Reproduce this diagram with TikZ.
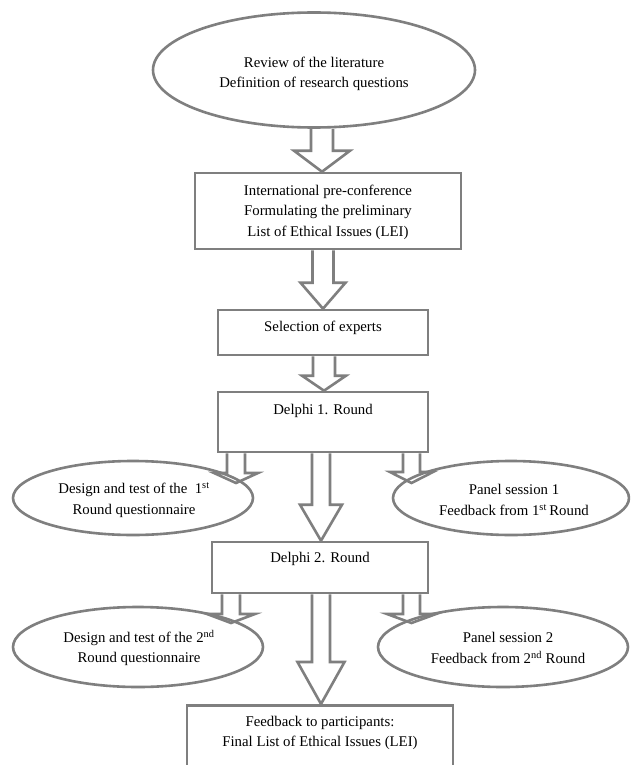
\documentclass[tikz,border=0pt]{standalone}
\usepackage{fontspec}
\setmainfont{Liberation Serif}
\usetikzlibrary{shapes.geometric,calc}
\definecolor{lc}{HTML}{7F7F7F}
\pgfdeclarelayer{bg}
\pgfsetlayers{bg,main}
\newcommand\myblk[6]{% #1 from, #2 to, #3 x, #4 shaft half, #5 head half, #6 head length
  \draw[blk] let \p1=(#1), \p2=(#2), \p3=(#3,0) in
    ({\x3-#4},\y1) -- ({\x3-#4},{\y2+#6}) -- ({\x3-#5},{\y2+#6}) -- (\x3,\y2)
    -- ({\x3+#5},{\y2+#6}) -- ({\x3+#4},{\y2+#6}) -- ({\x3+#4},\y1);}
\begin{document}
\begin{tikzpicture}[x=1pt,y=-1pt,
  shapeline/.style={draw=lc, line width=2.6pt},
  boxnode/.style={shapeline, rectangle, fill=white, inner sep=0pt},
  ovalnode/.style={shapeline, ellipse, inner sep=0pt},
  txt/.style={align=center, font=\fontsize{14.8}{20.5}\selectfont, text=black, inner sep=0pt},
  blk/.style={draw=lc, line width=2.6pt, line join=miter, fill=white}]
\useasboundingbox (0,0) rectangle (630,765);
\clip (0,0) rectangle (630,765);

\node[ovalnode, minimum width=322pt, minimum height=115pt] (top) at (314,70) {};
\node[boxnode, minimum width=266pt, minimum height=76pt] (b1) at (328,211) {};
\node[boxnode, minimum width=210pt, minimum height=45pt] (b2) at (323,332.5) {};
\node[boxnode, minimum width=210pt, minimum height=60pt] (d1) at (323,422) {};
\node[ovalnode, minimum width=240pt, minimum height=74pt] (l1) at (133,498) {};
\node[ovalnode, minimum width=236pt, minimum height=74pt] (r1) at (511,498) {};
\node[boxnode, minimum width=216pt, minimum height=51pt] (d2) at (320,567.5) {};
\node[ovalnode, minimum width=250pt, minimum height=80pt] (l2) at (138,647) {};
\node[ovalnode, minimum width=250pt, minimum height=80pt] (r2) at (503,647) {};
\node[boxnode, minimum width=266pt, minimum height=80pt, anchor=north] (fin) at (320,704) {};

\node[txt] (topt) at (314,74) {Review of the literature\\Definition of research questions};
\node[txt] (b1t) at (328,212) {International pre-conference\\Formulating the preliminary\\List of Ethical Issues (LEI)};
\node[txt] (b2t) at (323,328) {Selection of experts};
\node[txt] (d1t) at (323,411) {Delphi 1. Round};
\node[txt] (l1t) at (134,500) {Design and test of the \ 1\textsuperscript{st}\\Round questionnaire};
\node[txt] (r1t) at (514,500) {Panel session 1\\Feedback from 1\textsuperscript{st}\,Round};
\node[txt] (d2t) at (320,559) {Delphi 2. Round};
\node[txt] (l2t) at (139,648) {Design and test of the 2\textsuperscript{nd}\\Round questionnaire};
\node[txt] (r2t) at (508,648) {Panel session 2\\Feedback from 2\textsuperscript{nd} Round};
\node[txt] (fint) at (320,733) {Feedback to participants:\\Final List of Ethical Issues (LEI)};

\coordinate (t1) at (236,483);
\coordinate (t2) at (411.5,483);
\coordinate (t3) at (231,623);
\coordinate (t4) at (411.5,623);

\begin{pgfonlayer}{bg}
\fill[white] (0,0) rectangle (630,765);
\myblk{top.south}{b1.north}{322}{11pt}{28pt}{21pt}
\myblk{b1.south}{b2.north}{323}{10.5pt}{22.5pt}{26pt}
\myblk{b2.south}{d1.north}{324}{11pt}{22pt}{15pt}
\myblk{d1.south}{d2.north}{321}{9pt}{21pt}{36pt}
\myblk{d1.south}{t1}{236}{9pt}{22pt}{10pt}
\myblk{d1.south}{t2}{411.5}{8.5pt}{21.5pt}{11pt}
\myblk{d2.south}{fin.north}{321}{9pt}{23.5pt}{42pt}
\myblk{d2.south}{t3}{231}{9pt}{24pt}{9pt}
\myblk{d2.south}{t4}{411.5}{8.5pt}{24.5pt}{9pt}
\end{pgfonlayer}
\end{tikzpicture}
\end{document}
